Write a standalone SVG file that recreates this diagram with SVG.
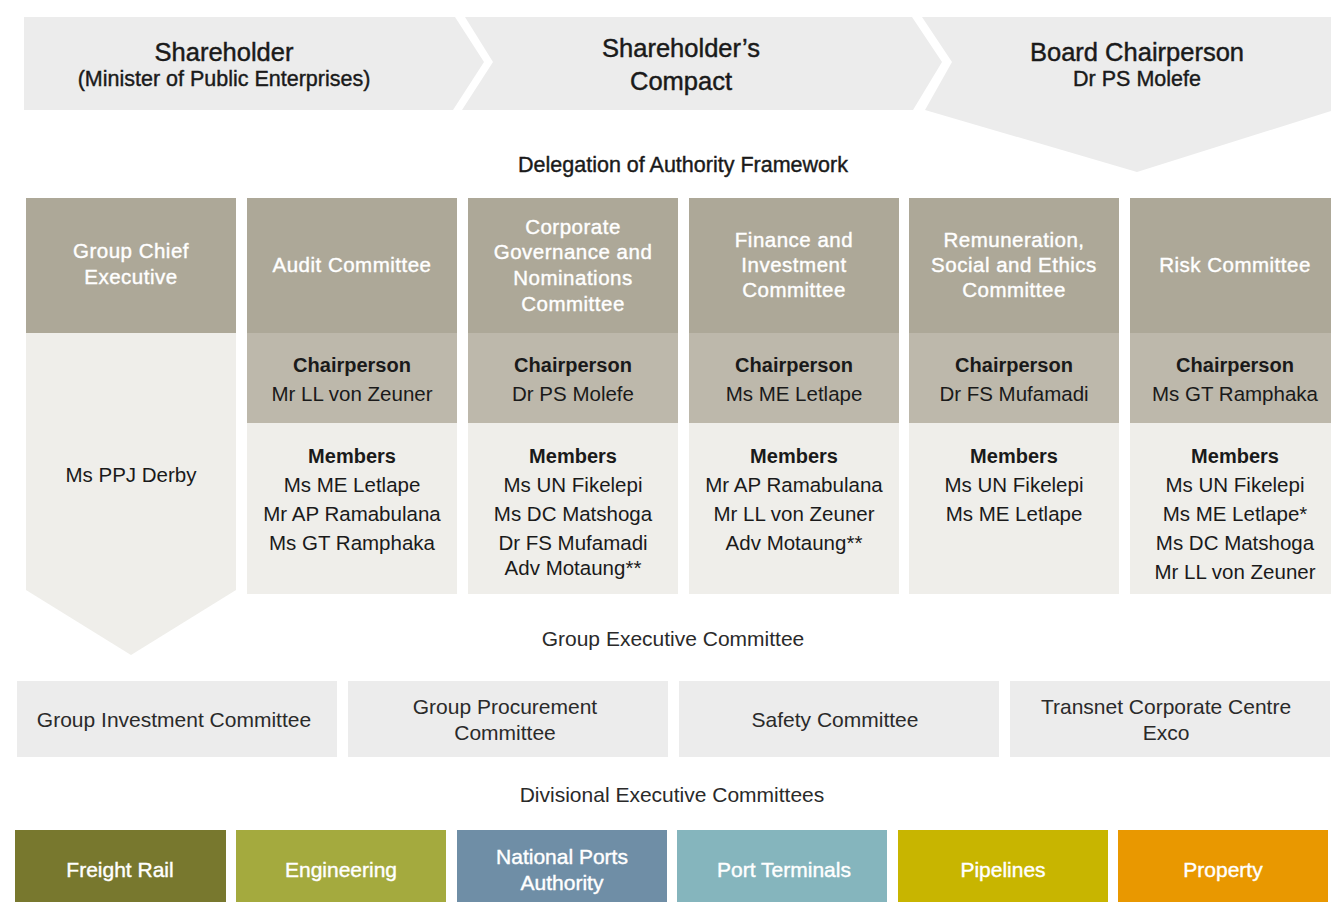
<svg xmlns="http://www.w3.org/2000/svg" width="1331" height="902" viewBox="0 0 1331 902">
<style>
text{font-family:"Liberation Sans",Arial,sans-serif;text-anchor:middle;fill:#1a1a1a}
.band{fill:#ececec}
.title{font-size:25.5px;stroke:#1a1a1a;stroke-width:0.45px}
.sub{font-size:21.5px;stroke:#1a1a1a;stroke-width:0.4px}
.sec{font-size:21.5px;stroke:#1a1a1a;stroke-width:0.4px}
.hdr{fill:#ada898}
.chr{fill:#bdb8ab}
.mem{fill:#efeeea}
.ht{font-size:20.5px;fill:#ffffff;stroke:#ffffff;stroke-width:0.4px;letter-spacing:0.5px}
.lb{font-size:20px;font-weight:bold}
.nm{font-size:20.5px}
.ex{fill:#ececec}
.et{font-size:21px;fill:#2a2a2a}
.dt{font-size:21px;fill:#ffffff;stroke:#ffffff;stroke-width:0.4px}
</style>
<rect width="1331" height="902" fill="#ffffff"/>
<g id="shareholder">
<polygon class="band" points="24,17 455,17 484,62 453,110 24,110"/>
<text class="title" x="224" y="61">Shareholder</text>
<text class="sub" x="224" y="86">(Minister of Public Enterprises)</text>
</g>
<g id="compact">
<polygon class="band" points="465,17 912,17 942,62 913,110 462,110 493,62"/>
<text class="title" x="681" y="57">Shareholder’s</text>
<text class="title" x="681" y="90">Compact</text>
</g>
<g id="board-chairperson">
<polygon class="band" points="922,17 1331,17 1331,111 1137,172 925,110 952,62"/>
<text class="title" x="1137" y="61">Board Chairperson</text>
<text class="sub" x="1137" y="86">Dr PS Molefe</text>
</g>
<text class="sec" x="683" y="172">Delegation of Authority Framework</text>
<g id="group-chief-executive">
<rect class="hdr" x="26" y="198" width="210" height="135"/>
<polygon class="mem" points="26,333 236,333 236,590 131,655 26,590"/>
<text class="ht" x="131" y="258">Group Chief</text>
<text class="ht" x="131" y="284">Executive</text>
<text class="nm" x="131" y="482">Ms PPJ Derby</text>
</g>
<g id="audit-committee">
<rect class="hdr" x="247" y="198" width="210" height="135"/>
<rect class="chr" x="247" y="333" width="210" height="90"/>
<rect class="mem" x="247" y="423" width="210" height="171"/>
<text class="ht" x="352" y="272">Audit Committee</text>
<text class="lb" x="352" y="372">Chairperson</text>
<text class="nm" x="352" y="401">Mr LL von Zeuner</text>
<text class="lb" x="352" y="463">Members</text>
<text class="nm" x="352" y="492">Ms ME Letlape</text>
<text class="nm" x="352" y="521">Mr AP Ramabulana</text>
<text class="nm" x="352" y="550">Ms GT Ramphaka</text>
</g>
<g id="corporate-governance-committee">
<rect class="hdr" x="468" y="198" width="210" height="135"/>
<rect class="chr" x="468" y="333" width="210" height="90"/>
<rect class="mem" x="468" y="423" width="210" height="171"/>
<text class="ht" x="573" y="234">Corporate</text>
<text class="ht" x="573" y="259">Governance and</text>
<text class="ht" x="573" y="285">Nominations</text>
<text class="ht" x="573" y="311">Committee</text>
<text class="lb" x="573" y="372">Chairperson</text>
<text class="nm" x="573" y="401">Dr PS Molefe</text>
<text class="lb" x="573" y="463">Members</text>
<text class="nm" x="573" y="492">Ms UN Fikelepi</text>
<text class="nm" x="573" y="521">Ms DC Matshoga</text>
<text class="nm" x="573" y="550">Dr FS Mufamadi</text>
<text class="nm" x="573" y="575">Adv Motaung**</text>
</g>
<g id="finance-committee">
<rect class="hdr" x="689" y="198" width="210" height="135"/>
<rect class="chr" x="689" y="333" width="210" height="90"/>
<rect class="mem" x="689" y="423" width="210" height="171"/>
<text class="ht" x="794" y="247">Finance and</text>
<text class="ht" x="794" y="272">Investment</text>
<text class="ht" x="794" y="297">Committee</text>
<text class="lb" x="794" y="372">Chairperson</text>
<text class="nm" x="794" y="401">Ms ME Letlape</text>
<text class="lb" x="794" y="463">Members</text>
<text class="nm" x="794" y="492">Mr AP Ramabulana</text>
<text class="nm" x="794" y="521">Mr LL von Zeuner</text>
<text class="nm" x="794" y="550">Adv Motaung**</text>
</g>
<g id="remuneration-committee">
<rect class="hdr" x="909" y="198" width="210" height="135"/>
<rect class="chr" x="909" y="333" width="210" height="90"/>
<rect class="mem" x="909" y="423" width="210" height="171"/>
<text class="ht" x="1014" y="247">Remuneration,</text>
<text class="ht" x="1014" y="272">Social and Ethics</text>
<text class="ht" x="1014" y="297">Committee</text>
<text class="lb" x="1014" y="372">Chairperson</text>
<text class="nm" x="1014" y="401">Dr FS Mufamadi</text>
<text class="lb" x="1014" y="463">Members</text>
<text class="nm" x="1014" y="492">Ms UN Fikelepi</text>
<text class="nm" x="1014" y="521">Ms ME Letlape</text>
</g>
<g id="risk-committee">
<rect class="hdr" x="1130" y="198" width="201" height="135"/>
<rect class="chr" x="1130" y="333" width="201" height="90"/>
<rect class="mem" x="1130" y="423" width="201" height="171"/>
<text class="ht" x="1235" y="272">Risk Committee</text>
<text class="lb" x="1235" y="372">Chairperson</text>
<text class="nm" x="1235" y="401">Ms GT Ramphaka</text>
<text class="lb" x="1235" y="463">Members</text>
<text class="nm" x="1235" y="492">Ms UN Fikelepi</text>
<text class="nm" x="1235" y="521">Ms ME Letlape*</text>
<text class="nm" x="1235" y="550">Ms DC Matshoga</text>
<text class="nm" x="1235" y="579">Mr LL von Zeuner</text>
</g>
<text class="et" x="673" y="646">Group Executive Committee</text>
<g id="group-investment-committee">
<rect class="ex" x="17" y="681" width="320" height="76"/>
<text class="et" x="174" y="727">Group Investment Committee</text>
</g>
<g id="group-procurement-committee">
<rect class="ex" x="348" y="681" width="320" height="76"/>
<text class="et" x="505" y="714">Group Procurement</text>
<text class="et" x="505" y="740">Committee</text>
</g>
<g id="safety-committee">
<rect class="ex" x="679" y="681" width="320" height="76"/>
<text class="et" x="835" y="727">Safety Committee</text>
</g>
<g id="tcc-exco">
<rect class="ex" x="1010" y="681" width="320" height="76"/>
<text class="et" x="1166" y="714">Transnet Corporate Centre</text>
<text class="et" x="1166" y="740">Exco</text>
</g>
<text class="et" x="672" y="802">Divisional Executive Committees</text>
<g id="freight-rail">
<rect x="15" y="830" width="211" height="72" fill="#78782e"/>
<text class="dt" x="120" y="877">Freight Rail</text>
</g>
<g id="engineering">
<rect x="236" y="830" width="210" height="72" fill="#a4aa3e"/>
<text class="dt" x="341" y="877">Engineering</text>
</g>
<g id="national-ports-authority">
<rect x="457" y="830" width="210" height="72" fill="#6f8ea6"/>
<text class="dt" x="562" y="864">National Ports</text>
<text class="dt" x="562" y="890">Authority</text>
</g>
<g id="port-terminals">
<rect x="677" y="830" width="210" height="72" fill="#85b5bd"/>
<text class="dt" x="784" y="877">Port Terminals</text>
</g>
<g id="pipelines">
<rect x="898" y="830" width="210" height="72" fill="#c8b500"/>
<text class="dt" x="1003" y="877">Pipelines</text>
</g>
<g id="property">
<rect x="1118" y="830" width="210" height="72" fill="#e99800"/>
<text class="dt" x="1223" y="877">Property</text>
</g>
<g id="connectors"/>
</svg>
